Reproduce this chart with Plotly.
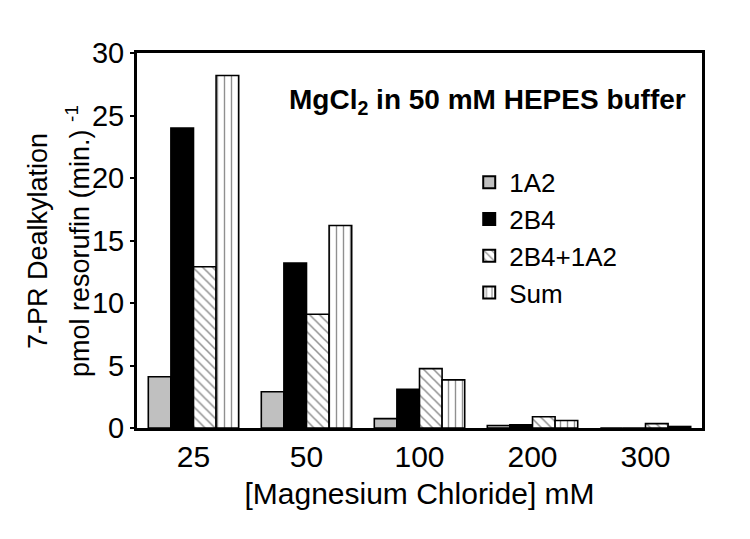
import plotly.graph_objects as go

categories = ["25", "50", "100", "200", "300"]
vals_1a2 = [4.1, 2.9, 0.75, 0.2, 0.0]
vals_2b4 = [24.0, 13.2, 3.1, 0.25, 0.0]
vals_combo = [12.9, 9.1, 4.75, 0.9, 0.35]
vals_sum = [28.2, 16.2, 3.85, 0.6, 0.12]
y_ticks = [0, 5, 10, 15, 20, 25, 30]

FONT = "Liberation Sans, Arial, sans-serif"

fig = go.Figure()
line = dict(color="black", width=1.6)
fig.add_bar(name="1A2", x=categories, y=vals_1a2,
            marker=dict(color="#c0c0c0", line=line))
fig.add_bar(name="2B4", x=categories, y=vals_2b4,
            marker=dict(color="black", line=line))
fig.add_bar(name="2B4+1A2", x=categories, y=vals_combo,
            marker=dict(color="white", line=line,
                        pattern=dict(shape="\\", fgcolor="#222", bgcolor="white",
                                     size=7, solidity=0.22)))
fig.add_bar(name="Sum", x=categories, y=vals_sum,
            marker=dict(color="white", line=line,
                        pattern=dict(shape="|", fgcolor="#222", bgcolor="white",
                                     size=7, solidity=0.2)))

fig.update_layout(
    width=750, height=539,
    margin=dict(l=129, r=56, t=45, b=119),
    paper_bgcolor="white", plot_bgcolor="white",
    barmode="group", bargap=0.2, bargroupgap=0,
    font=dict(family=FONT, size=28, color="black"),
    showlegend=True,
    legend=dict(x=0.588, y=0.718, xanchor="left", yanchor="top",
                bgcolor="rgba(0,0,0,0)", font=dict(size=26),
                tracegroupgap=0, itemsizing="constant"),
    annotations=[
        dict(text="<b>MgCl<sub>2</sub> in 50 mM HEPES buffer</b>",
             xref="paper", yref="paper", x=0.975, y=0.872,
             xanchor="right", yanchor="middle", showarrow=False,
             font=dict(size=28, family=FONT)),
        dict(text="<span style='font-size:27px'>7-PR Dealkylation</span><br>"
                  "<span style='font-size:27px'>pmol resorufin (min.) <sup>-1</sup></span>",
             xref="paper", yref="paper", x=-0.139, y=0.5,
             xanchor="center", yanchor="middle", textangle=-90, showarrow=False,
             font=dict(size=32.5, family=FONT)),
    ],
)
fig.update_xaxes(
    type="category", range=[-0.5, 4.5],
    showline=True, linecolor="black", linewidth=3, mirror=True,
    ticks="", tickfont=dict(size=30),
    title=dict(text="[Magnesium Chloride] mM", font=dict(size=30), standoff=11),
)
fig.update_yaxes(
    range=[0, 30], tickvals=y_ticks,
    showline=True, linecolor="black", linewidth=3, mirror=True,
    ticks="outside", ticklen=4, tickwidth=2, tickcolor="black",
    showgrid=False, zeroline=False, tickfont=dict(size=29),
)

fig.write_html("out.html")
